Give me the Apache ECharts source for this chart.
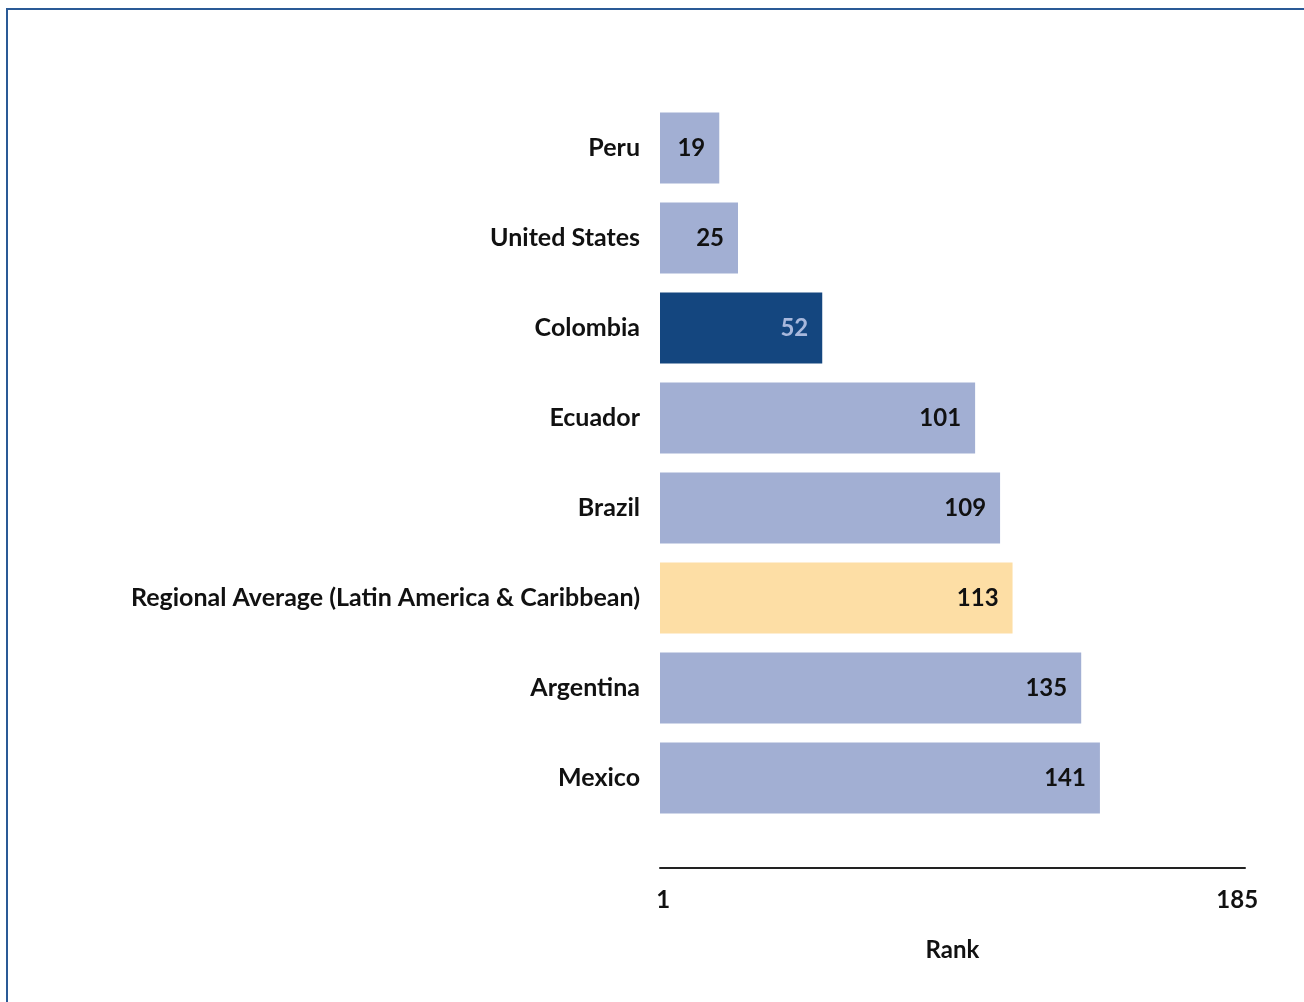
<!DOCTYPE html>
<html><head><meta charset="utf-8">
<script src="https://cdn.jsdelivr.net/npm/echarts@6/dist/echarts.min.js"></script>
<style>
html,body{margin:0;padding:0;background:#fff;}
#frame{position:absolute;left:6px;top:8px;width:1298px;height:994px;border-left:2px solid #2a5a96;border-top:2px solid #2a5a96;box-sizing:border-box;}
#chart{position:absolute;left:0;top:0;width:1304px;height:1002px;}
</style></head>
<body>
<div id="frame"></div>
<div id="chart"></div>
<script>
const categories = ["Peru","United States","Colombia","Ecuador","Brazil","Regional Average (Latin America & Caribbean)","Argentina","Mexico"];
const ranks = [19,25,52,101,109,113,135,141];
const tickValues = [1,185];
const axisTitle = "Rank";

const colorFor = (name) => name === "Colombia" ? "#14467f" : (name.indexOf("Regional") === 0 ? "#fddea5" : "#a2afd3");
const FONT = "Lato";
const chart = echarts.init(document.getElementById('chart'), null, {renderer:'canvas'});
chart.setOption({
  animation:false,
  grid:{left:660,right:59,top:103,height:720},
  xAxis:{
    type:'value', min:0, max:187.5,
    offset:45,
    axisLine:{show:true,lineStyle:{color:'#222',width:2}},
    axisTick:{show:false},
    splitLine:{show:false},
    axisLabel:{customValues:tickValues, fontFamily:FONT, fontWeight:'bold', fontSize:24, color:'#111', margin:20,
      formatter:(v)=>String(v)},
    name:axisTitle, nameLocation:'middle', nameGap:70,
    nameTextStyle:{fontFamily:FONT, fontWeight:'bold', fontSize:24, color:'#111'}
  },
  yAxis:{
    type:'category', inverse:true, data:categories,
    axisLine:{show:false}, axisTick:{show:false},
    axisLabel:{fontFamily:FONT, fontWeight:'bold', fontSize:25, color:'#111', margin:20}
  },
  series:[{
    type:'bar', barWidth:71,
    data:categories.map((c,i)=>({value:ranks[i], itemStyle:{color:colorFor(c)},
      label:{color: c==="Colombia" ? "#a8b8dc" : "#111"}})),
    label:{show:true, position:'insideRight', distance:14, fontFamily:FONT, fontWeight:'bold', fontSize:24}
  }]
});
</script>
</body></html>
